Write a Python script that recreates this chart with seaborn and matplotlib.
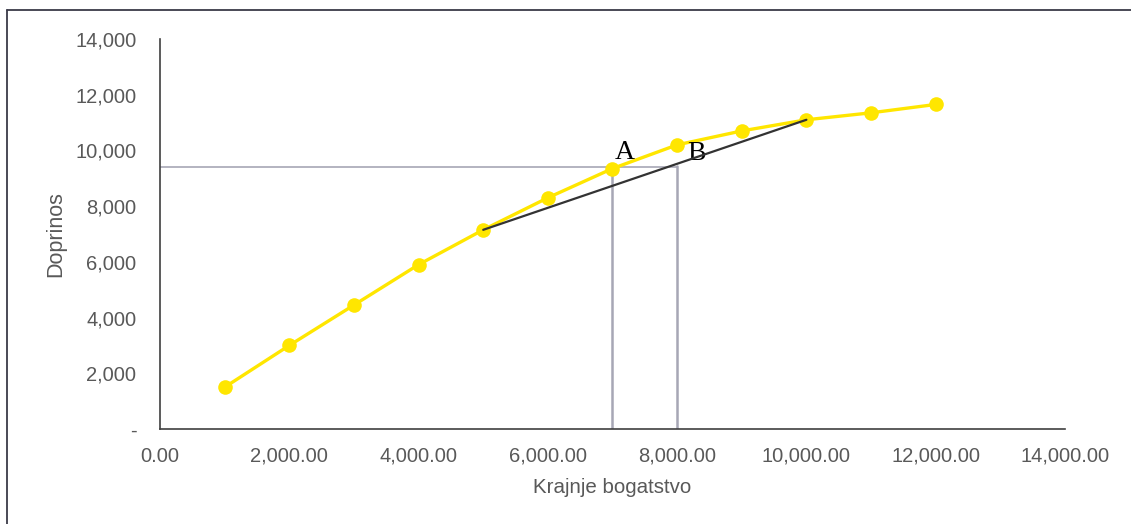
import matplotlib
matplotlib.use("Agg")
import matplotlib.pyplot as plt
from matplotlib.lines import Line2D
from matplotlib.ticker import FuncFormatter
import pandas as pd
import seaborn as sns

# Terminal wealth vs. contribution
wealth = [1000, 2000, 3000, 4000, 5000, 6000, 7000, 8000, 9000, 10000, 11000, 12000]
contribution = [1500, 3000, 4450, 5900, 7150, 8300, 9350, 10200, 10700, 11100, 11350, 11650]

# Chord between the 5,000 and 10,000 points
chord_x = [5000, 10000]
chord_y = [7150, 11100]

# Guide lines for points A and B
level_y = 9400
a_x = 7000
b_x = 8000
b_top = 9450

x_ticks = [0, 2000, 4000, 6000, 8000, 10000, 12000, 14000]
y_ticks = [0, 2000, 4000, 6000, 8000, 10000, 12000, 14000]

sns.set_style("white")
plt.rcParams["font.family"] = ["Liberation Sans", "DejaVu Sans"]

fig = plt.figure(figsize=(11.31, 5.24), dpi=100)
ax = fig.add_axes([0.1415, 0.1813, 0.8001, 0.7443])

df = pd.DataFrame({"Krajnje bogatstvo": wealth, "Doprinos": contribution})

guide = "#A7A7B5"
ax.plot([0, b_x], [level_y, level_y], color=guide, lw=1.2, zorder=1)
ax.plot([a_x, a_x], [0, level_y], color=guide, lw=1.8, zorder=1)
ax.plot([b_x, b_x], [0, b_top], color=guide, lw=1.8, zorder=1)

sns.lineplot(data=df, x="Krajnje bogatstvo", y="Doprinos", ax=ax,
             color="#FFE600", lw=2.4, marker="o", markersize=10.5,
             markeredgewidth=0, zorder=3)
ax.plot(chord_x, chord_y, color="#333333", lw=1.6, zorder=4)

ax.text(7040, 9690, "A", family="Liberation Serif", fontsize=20,
        color="black", ha="left", va="baseline")
ax.text(8150, 9650, "B", family="Liberation Serif", fontsize=20,
        color="black", ha="left", va="baseline")

ax.set_xlim(0, 14000)
ax.set_ylim(0, 14000)
ax.set_xticks(x_ticks)
ax.set_yticks(y_ticks)
ax.xaxis.set_major_formatter(FuncFormatter(lambda v, p: f"{v:,.2f}"))
ax.yaxis.set_major_formatter(FuncFormatter(lambda v, p: "-" if v == 0 else f"{v:,.0f}"))

for side in ["top", "right"]:
    ax.spines[side].set_visible(False)
for side in ["left", "bottom"]:
    ax.spines[side].set_color("#404040")
    ax.spines[side].set_linewidth(1.2)

ax.tick_params(axis="x", which="major", direction="out", length=5, width=1.2,
               color="#404040", labelsize=14.5, labelcolor="#595959", pad=18.5)
ax.tick_params(axis="y", which="major", length=0, labelsize=14.5,
               labelcolor="#595959", pad=17)
for tick in ax.xaxis.get_major_ticks():
    tick.label1.set_verticalalignment("baseline")

ax.set_xlabel("Krajnje bogatstvo", fontsize=14.8, color="#595959")
ax.set_ylabel("Doprinos", fontsize=15.5, color="#595959")
ax.xaxis.set_label_coords(0.5, -0.125)
ax.yaxis.set_label_coords(-0.104, 0.5)

# Frame around the figure (left and top edges)
fig.add_artist(Line2D([7 / 1131, 7 / 1131], [0, 1 - 10 / 524],
                      transform=fig.transFigure, color="#3A3A48", lw=1.3))
fig.add_artist(Line2D([7 / 1131, 1], [1 - 10 / 524, 1 - 10 / 524],
                      transform=fig.transFigure, color="#3A3A48", lw=1.3))

fig.savefig("out.png", dpi=100)
